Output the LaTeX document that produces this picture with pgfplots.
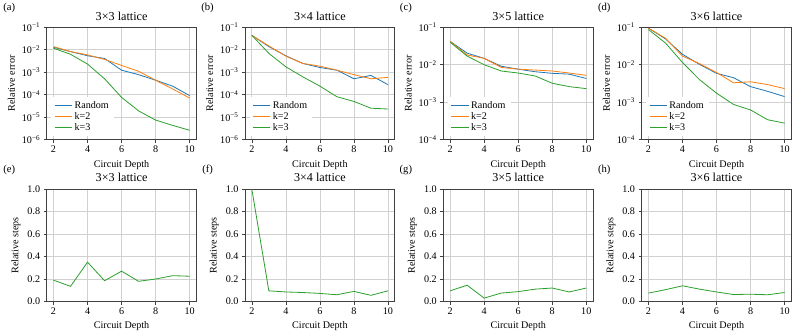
\documentclass[border=0pt]{standalone}
\usepackage{fontspec}
\setmainfont{Liberation Serif}
\usepackage{pgfplots}
\pgfplotsset{compat=1.18}
\usepgfplotslibrary{groupplots}

\definecolor{tabblue}{HTML}{1F77B4}
\definecolor{taborange}{HTML}{FF7F0E}
\definecolor{tabgreen}{HTML}{2CA02C}

\pgfplotsset{
  panel/.style={
    scale only axis, width=148pt, height=111pt,
    xmin=1.6, xmax=10.4, xtick={2,4,6,8,10},
    grid=major, major grid style={black!18, line width=0.7pt},
    axis line style={black!75, line width=0.6pt},
    tick pos=left,
    tick align=outside, major tick length=3pt, tick style={black!75, line width=0.5pt},
    minor tick style={draw=none},
    ticklabel style={font=\fontsize{10}{11}\selectfont},
    label style={font=\fontsize{10}{11}\selectfont},
    title style={font=\fontsize{12}{13}\selectfont, yshift=-2.5pt},
    xlabel={Circuit Depth},
    /pgf/number format/assume math mode=true,
    clip=false,
    every axis plot/.append style={line width=0.8pt, no marks},
  },
  errpanel/.style={
    panel, ylabel={Relative error},
    legend style={at={(0.03,0.03)}, anchor=south west, draw=none, fill=white,
      font=\fontsize{10}{11}\selectfont, row sep=-1.5pt},
    legend cell align=left,
  },
  steppanel/.style={
    panel, ymin=0, ymax=1, ytick={0,0.2,0.4,0.6,0.8,1.0}, ylabel={Relative steps},
    yticklabel style={/pgf/number format/.cd, fixed, fixed zerofill, precision=1},
  },
}
\newcommand{\plabel}[1]{\node[font=\fontsize{10.5}{11}\selectfont] at (rel axis cs:-0.25,1.17) {(#1)};}

\begin{document}
\begin{tikzpicture}
\begin{groupplot}[group style={group size=4 by 2, horizontal sep=48pt, vertical sep=49pt}]
% (a)
\nextgroupplot[ymode=log, errpanel, title={3×3 lattice}, ymin=1e-6, ymax=1e-1,
  ytick={1e-6,1e-5,1e-4,1e-3,1e-2,1e-1},
  yticklabels={10\textsuperscript{−6},10\textsuperscript{−5},10\textsuperscript{−4},10\textsuperscript{−3},10\textsuperscript{−2},10\textsuperscript{−1}}]
\addplot[tabblue] coordinates {(2,1.29e-2) (3,8.3e-3) (4,5.4e-3) (5,4.1e-3) (6,1.23e-3) (7,7.8e-4) (8,4.4e-4) (9,2.4e-4) (10,9.1e-5)};
\addplot[taborange] coordinates {(2,1.38e-2) (3,8.3e-3) (4,5.9e-3) (5,3.7e-3) (6,2.0e-3) (7,1.1e-3) (8,4.4e-4) (9,1.8e-4) (10,7.1e-5)};
\addplot[tabgreen] coordinates {(2,1.17e-2) (3,6.3e-3) (4,2.3e-3) (5,5.1e-4) (6,7.6e-5) (7,1.9e-5) (8,7.4e-6) (9,4.3e-6) (10,2.6e-6)};
\legend{Random,k=2,k=3}
\plabel{a}
% (b)
\nextgroupplot[ymode=log, errpanel, title={3×4 lattice}, ymin=1e-6, ymax=1e-1,
  ytick={1e-6,1e-5,1e-4,1e-3,1e-2,1e-1},
  yticklabels={10\textsuperscript{−6},10\textsuperscript{−5},10\textsuperscript{−4},10\textsuperscript{−3},10\textsuperscript{−2},10\textsuperscript{−1}}]
\addplot[tabblue] coordinates {(2,4.4e-2) (3,1.38e-2) (4,5.4e-3) (5,2.45e-3) (6,1.62e-3) (7,1.23e-3) (8,5.1e-4) (9,7.2e-4) (10,2.8e-4)};
\addplot[taborange] coordinates {(2,4.4e-2) (3,1.48e-2) (4,5.2e-3) (5,2.45e-3) (6,1.86e-3) (7,1.23e-3) (8,7.8e-4) (9,5.1e-4) (10,5.9e-4)};
\addplot[tabgreen] coordinates {(2,4.4e-2) (3,6.9e-3) (4,1.74e-3) (5,6.2e-4) (6,2.4e-4) (7,8.1e-5) (8,5.0e-5) (9,2.5e-5) (10,2.3e-5)};
\legend{Random,k=2,k=3}
\plabel{b}
% (c)
\nextgroupplot[ymode=log, errpanel, title={3×5 lattice}, ymin=1e-4, ymax=1e-1,
  ytick={1e-4,1e-3,1e-2,1e-1},
  yticklabels={10\textsuperscript{−4},10\textsuperscript{−3},10\textsuperscript{−2},10\textsuperscript{−1}}]
\addplot[tabblue] coordinates {(2,4.2e-2) (3,2.04e-2) (4,1.48e-2) (5,9.1e-3) (6,7.6e-3) (7,6.5e-3) (8,5.9e-3) (9,5.6e-3) (10,4.3e-3)};
\addplot[taborange] coordinates {(2,4.2e-2) (3,1.82e-2) (4,1.48e-2) (5,8.5e-3) (6,7.6e-3) (7,7.2e-3) (8,6.8e-3) (9,6.0e-3) (10,5.2e-3)};
\addplot[tabgreen] coordinates {(2,4.0e-2) (3,1.7e-2) (4,1.0e-2) (5,6.8e-3) (6,6.0e-3) (7,5.0e-3) (8,3.2e-3) (9,2.6e-3) (10,2.3e-3)};
\legend{Random,k=2,k=3}
\plabel{c}
% (d)
\nextgroupplot[ymode=log, errpanel, title={3×6 lattice}, ymin=1e-4, ymax=1e-1,
  ytick={1e-4,1e-3,1e-2,1e-1},
  yticklabels={10\textsuperscript{−4},10\textsuperscript{−3},10\textsuperscript{−2},10\textsuperscript{−1}}]
\addplot[tabblue] coordinates {(2,9.5e-2) (3,4.9e-2) (4,1.9e-2) (5,1.02e-2) (6,5.9e-3) (7,4.5e-3) (8,2.6e-3) (9,1.95e-3) (10,1.41e-3)};
\addplot[taborange] coordinates {(2,9.5e-2) (3,5.1e-2) (4,1.7e-2) (5,1.07e-2) (6,6.2e-3) (7,3.3e-3) (8,3.5e-3) (9,2.95e-3) (10,2.3e-3)};
\addplot[tabgreen] coordinates {(2,8.7e-2) (3,3.8e-2) (4,1.15e-2) (5,4.0e-3) (6,1.74e-3) (7,8.7e-4) (8,6.2e-4) (9,3.4e-4) (10,2.75e-4)};
\legend{Random,k=2,k=3}
\plabel{d}
% (e)
\nextgroupplot[steppanel, title={3×3 lattice}]
\addplot[tabgreen] coordinates {(2,0.19) (3,0.135) (4,0.35) (5,0.185) (6,0.27) (7,0.18) (8,0.20) (9,0.23) (10,0.225)};
\plabel{e}
% (f)
\nextgroupplot[steppanel, title={3×4 lattice}]
\addplot[tabgreen] coordinates {(2,1.0) (3,0.095) (4,0.085) (5,0.08) (6,0.072) (7,0.06) (8,0.09) (9,0.055) (10,0.095)};
\plabel{f}
% (g)
\nextgroupplot[steppanel, title={3×5 lattice}]
\addplot[tabgreen] coordinates {(2,0.095) (3,0.145) (4,0.03) (5,0.075) (6,0.088) (7,0.11) (8,0.12) (9,0.085) (10,0.12)};
\plabel{g}
% (h)
\nextgroupplot[steppanel, title={3×6 lattice}]
\addplot[tabgreen] coordinates {(2,0.075) (3,0.105) (4,0.14) (5,0.11) (6,0.085) (7,0.062) (8,0.065) (9,0.06) (10,0.08)};
\plabel{h}
\end{groupplot}
\end{tikzpicture}
\end{document}
